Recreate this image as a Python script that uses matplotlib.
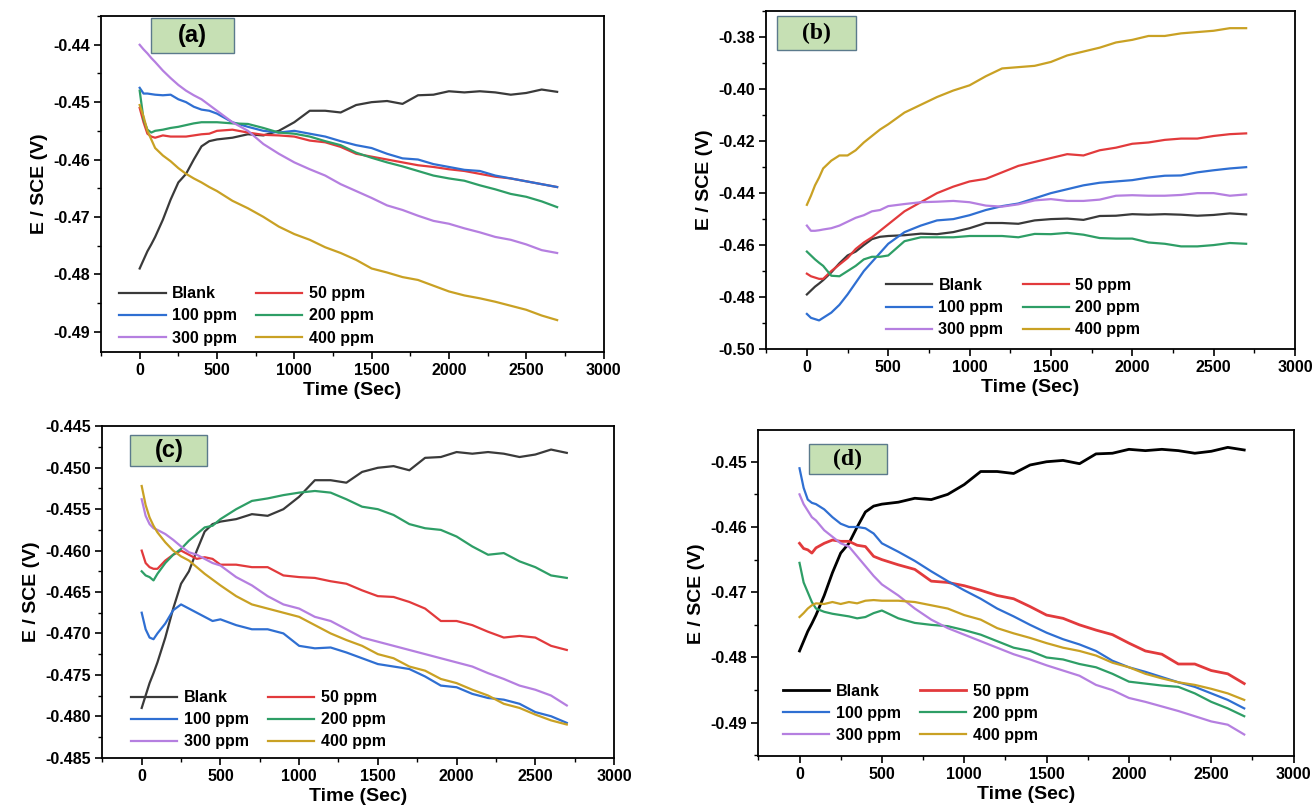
import matplotlib
matplotlib.use("Agg")
import matplotlib.pyplot as plt
from matplotlib.patches import Rectangle
from matplotlib.ticker import MultipleLocator, AutoMinorLocator, FormatStrFormatter

plt.rcParams['font.family'] = ['Liberation Sans', 'DejaVu Sans']
plt.rcParams['font.weight'] = 'bold'

# time grid (s), shared by all curves
t = [0, 25, 50, 75, 100, 150, 200, 250, 300, 350, 400, 450, 500,
     600, 700, 800, 900, 1000, 1100, 1200, 1300, 1400, 1500, 1600, 1700,
     1800, 1900, 2000, 2100, 2200, 2300, 2400, 2500, 2600, 2700]

labels = ["Blank", "50 ppm", "100 ppm", "200 ppm", "300 ppm", "400 ppm"]
colors = ["#3a3a3a", "#e23a3c", "#2f6fd2", "#2e9e66", "#b57fe0", "#c9a124"]

blank = [-0.4790, -0.4775, -0.4760, -0.4748, -0.4735, -0.4705, -0.4670, -0.4640, -0.4625, -0.4600, -0.4577, -0.4568, -0.4565,
         -0.4562, -0.4556, -0.4558, -0.4550, -0.4535, -0.4515, -0.4515, -0.4518, -0.4505, -0.4500, -0.4498, -0.4503,
         -0.4488, -0.4487, -0.4481, -0.4483, -0.4481, -0.4483, -0.4487, -0.4484, -0.4478, -0.4482]

# panel (a)
a_50 = [-0.4510, -0.4535, -0.4555, -0.4560, -0.4562, -0.4558, -0.4560, -0.4560, -0.4560, -0.4558, -0.4556, -0.4555, -0.4550,
        -0.4548, -0.4553, -0.4557, -0.4558, -0.4560, -0.4567, -0.4570, -0.4578, -0.4590, -0.4595, -0.4600, -0.4605,
        -0.4610, -0.4613, -0.4617, -0.4620, -0.4625, -0.4630, -0.4633, -0.4638, -0.4643, -0.4648]
a_100 = [-0.4475, -0.4485, -0.4485, -0.4486, -0.4487, -0.4488, -0.4487, -0.4495, -0.4500, -0.4508, -0.4513, -0.4515, -0.4520,
         -0.4535, -0.4543, -0.4550, -0.4553, -0.4550, -0.4555, -0.4560, -0.4568, -0.4575, -0.4580, -0.4590, -0.4598,
         -0.4600, -0.4608, -0.4613, -0.4618, -0.4620, -0.4628, -0.4633, -0.4638, -0.4643, -0.4648]
a_200 = [-0.4480, -0.4530, -0.4548, -0.4553, -0.4550, -0.4548, -0.4545, -0.4543, -0.4540, -0.4537, -0.4535, -0.4535, -0.4535,
         -0.4537, -0.4538, -0.4545, -0.4553, -0.4555, -0.4560, -0.4568, -0.4575, -0.4588, -0.4597, -0.4605, -0.4612,
         -0.4620, -0.4628, -0.4633, -0.4637, -0.4645, -0.4652, -0.4660, -0.4665, -0.4673, -0.4683]
a_300 = [-0.4400, -0.4408, -0.4415, -0.4423, -0.4430, -0.4445, -0.4458, -0.4470, -0.4480, -0.4488, -0.4495, -0.4505, -0.4515,
         -0.4535, -0.4550, -0.4573, -0.4590, -0.4605, -0.4617, -0.4628, -0.4643, -0.4655, -0.4667, -0.4680, -0.4688,
         -0.4698, -0.4707, -0.4712, -0.4720, -0.4727, -0.4735, -0.4740, -0.4748, -0.4758, -0.4763]
a_400 = [-0.4505, -0.4525, -0.4550, -0.4565, -0.4580, -0.4593, -0.4603, -0.4615, -0.4625, -0.4633, -0.4640, -0.4648, -0.4655,
         -0.4672, -0.4685, -0.4700, -0.4717, -0.4730, -0.4740, -0.4753, -0.4763, -0.4775, -0.4790, -0.4797, -0.4805,
         -0.4810, -0.4820, -0.4830, -0.4837, -0.4842, -0.4848, -0.4855, -0.4862, -0.4872, -0.4880]

# panel (b)
b_50 = [-0.4710, -0.4720, -0.4725, -0.4730, -0.4730, -0.4700, -0.4675, -0.4650, -0.4615, -0.4590, -0.4570, -0.4545, -0.4520,
        -0.4470, -0.4435, -0.4400, -0.4375, -0.4355, -0.4345, -0.4320, -0.4295, -0.4280, -0.4265, -0.4250, -0.4255,
        -0.4235, -0.4225, -0.4210, -0.4205, -0.4195, -0.4190, -0.4190, -0.4180, -0.4173, -0.4170]
b_100 = [-0.4865, -0.4880, -0.4885, -0.4890, -0.4880, -0.4860, -0.4830, -0.4790, -0.4745, -0.4700, -0.4665, -0.4630, -0.4595,
         -0.4550, -0.4525, -0.4505, -0.4500, -0.4485, -0.4465, -0.4450, -0.4440, -0.4420, -0.4400, -0.4385, -0.4370,
         -0.4360, -0.4355, -0.4350, -0.4340, -0.4333, -0.4332, -0.4320, -0.4312, -0.4305, -0.4300]
b_200 = [-0.4625, -0.4640, -0.4655, -0.4668, -0.4680, -0.4718, -0.4720, -0.4700, -0.4680, -0.4655, -0.4645, -0.4645, -0.4640,
         -0.4585, -0.4570, -0.4570, -0.4570, -0.4565, -0.4565, -0.4565, -0.4570, -0.4557, -0.4558, -0.4553, -0.4560,
         -0.4573, -0.4575, -0.4575, -0.4590, -0.4595, -0.4605, -0.4605, -0.4600, -0.4592, -0.4595]
b_300 = [-0.4525, -0.4545, -0.4545, -0.4543, -0.4540, -0.4535, -0.4525, -0.4510, -0.4495, -0.4485, -0.4470, -0.4465, -0.4450,
         -0.4442, -0.4435, -0.4433, -0.4430, -0.4435, -0.4448, -0.4452, -0.4443, -0.4428, -0.4423, -0.4430, -0.4430,
         -0.4425, -0.4410, -0.4408, -0.4410, -0.4410, -0.4407, -0.4400, -0.4400, -0.4410, -0.4405]
b_400 = [-0.4445, -0.4410, -0.4370, -0.4340, -0.4305, -0.4275, -0.4255, -0.4255, -0.4235, -0.4205, -0.4180, -0.4155, -0.4135,
         -0.4090, -0.4060, -0.4030, -0.4005, -0.3985, -0.3950, -0.3920, -0.3915, -0.3910, -0.3895, -0.3870, -0.3855,
         -0.3840, -0.3820, -0.3810, -0.3795, -0.3795, -0.3785, -0.3780, -0.3775, -0.3765, -0.3765]

# panel (c)
c_50 = [-0.4600, -0.4615, -0.4620, -0.4622, -0.4622, -0.4612, -0.4605, -0.4600, -0.4605, -0.4610, -0.4608, -0.4610, -0.4617,
        -0.4617, -0.4620, -0.4620, -0.4630, -0.4632, -0.4633, -0.4637, -0.4640, -0.4648, -0.4655, -0.4656, -0.4662,
        -0.4670, -0.4685, -0.4685, -0.4690, -0.4698, -0.4705, -0.4703, -0.4705, -0.4715, -0.4720]
c_100 = [-0.4675, -0.4695, -0.4705, -0.4707, -0.4700, -0.4688, -0.4672, -0.4665, -0.4670, -0.4675, -0.4680, -0.4685, -0.4683,
         -0.4690, -0.4695, -0.4695, -0.4700, -0.4715, -0.4718, -0.4717, -0.4723, -0.4730, -0.4737, -0.4740, -0.4743,
         -0.4752, -0.4763, -0.4765, -0.4773, -0.4778, -0.4780, -0.4785, -0.4795, -0.4800, -0.4808]
c_200 = [-0.4625, -0.4630, -0.4632, -0.4636, -0.4628, -0.4615, -0.4605, -0.4598, -0.4588, -0.4580, -0.4572, -0.4570, -0.4562,
         -0.4550, -0.4540, -0.4537, -0.4533, -0.4530, -0.4528, -0.4530, -0.4538, -0.4547, -0.4550, -0.4557, -0.4568,
         -0.4573, -0.4575, -0.4583, -0.4595, -0.4605, -0.4603, -0.4613, -0.4620, -0.4630, -0.4633]
c_300 = [-0.4538, -0.4558, -0.4568, -0.4573, -0.4575, -0.4580, -0.4587, -0.4595, -0.4602, -0.4605, -0.4610, -0.4615, -0.4618,
         -0.4632, -0.4642, -0.4655, -0.4665, -0.4670, -0.4680, -0.4685, -0.4695, -0.4705, -0.4710, -0.4715, -0.4720,
         -0.4725, -0.4730, -0.4735, -0.4740, -0.4748, -0.4755, -0.4763, -0.4768, -0.4775, -0.4787]
c_400 = [-0.4522, -0.4545, -0.4560, -0.4570, -0.4578, -0.4590, -0.4600, -0.4607, -0.4612, -0.4620, -0.4628, -0.4635, -0.4642,
         -0.4655, -0.4665, -0.4670, -0.4675, -0.4680, -0.4690, -0.4700, -0.4708, -0.4715, -0.4725, -0.4730, -0.4740,
         -0.4745, -0.4755, -0.4760, -0.4768, -0.4775, -0.4785, -0.4790, -0.4798, -0.4805, -0.4810]

# panel (d)
d_blank = blank
d_50 = [-0.4625, -0.4633, -0.4635, -0.4640, -0.4632, -0.4625, -0.4620, -0.4622, -0.4622, -0.4628, -0.4630, -0.4645, -0.4650,
        -0.4658, -0.4665, -0.4683, -0.4685, -0.4690, -0.4697, -0.4705, -0.4710, -0.4722, -0.4735, -0.4740, -0.4750,
        -0.4758, -0.4765, -0.4778, -0.4790, -0.4795, -0.4810, -0.4810, -0.4820, -0.4825, -0.4840]
d_100 = [-0.4510, -0.4540, -0.4558, -0.4563, -0.4565, -0.4573, -0.4585, -0.4595, -0.4600, -0.4600, -0.4602, -0.4610, -0.4625,
         -0.4638, -0.4652, -0.4668, -0.4683, -0.4697, -0.4710, -0.4725, -0.4737, -0.4750, -0.4762, -0.4772, -0.4780,
         -0.4790, -0.4805, -0.4815, -0.4822, -0.4830, -0.4838, -0.4845, -0.4855, -0.4865, -0.4878]
d_200 = [-0.4655, -0.4685, -0.4700, -0.4715, -0.4725, -0.4730, -0.4733, -0.4735, -0.4737, -0.4740, -0.4738, -0.4732, -0.4728,
         -0.4740, -0.4747, -0.4750, -0.4752, -0.4758, -0.4765, -0.4775, -0.4785, -0.4790, -0.4800, -0.4803, -0.4810,
         -0.4815, -0.4825, -0.4837, -0.4840, -0.4843, -0.4845, -0.4855, -0.4868, -0.4878, -0.4890]
d_300 = [-0.4550, -0.4565, -0.4575, -0.4585, -0.4590, -0.4605, -0.4615, -0.4625, -0.4630, -0.4645, -0.4660, -0.4675, -0.4688,
         -0.4705, -0.4725, -0.4742, -0.4755, -0.4765, -0.4775, -0.4785, -0.4795, -0.4803, -0.4812, -0.4820, -0.4828,
         -0.4842, -0.4850, -0.4862, -0.4868, -0.4875, -0.4882, -0.4890, -0.4898, -0.4903, -0.4918]
d_400 = [-0.4738, -0.4732, -0.4725, -0.4720, -0.4717, -0.4718, -0.4715, -0.4718, -0.4715, -0.4717, -0.4713, -0.4712, -0.4713,
         -0.4713, -0.4715, -0.4720, -0.4725, -0.4735, -0.4742, -0.4755, -0.4763, -0.4770, -0.4778, -0.4785, -0.4790,
         -0.4797, -0.4808, -0.4815, -0.4825, -0.4832, -0.4838, -0.4842, -0.4848, -0.4855, -0.4865]

panels = [
    ("(a)", [blank, a_50, a_100, a_200, a_300, a_400], (-0.4936, -0.435), 0.01, "%.2f"),
    ("(b)", [blank, b_50, b_100, b_200, b_300, b_400], (-0.50, -0.37), 0.02, "%.2f"),
    ("(c)", [blank, c_50, c_100, c_200, c_300, c_400], (-0.485, -0.445), 0.005, "%.3f"),
    ("(d)", [d_blank, d_50, d_100, d_200, d_300, d_400], (-0.4951, -0.4452), 0.01, "%.2f"),
]
rects = [[0.077, 0.563, 0.383, 0.417],
         [0.584, 0.567, 0.403, 0.419],
         [0.078, 0.060, 0.390, 0.411],
         [0.578, 0.062, 0.408, 0.404]]
# tag box (x0, y0, w, h) in axes fraction
tags = [(0.10, 0.89, 0.165, 0.105), (0.02, 0.885, 0.15, 0.10),
        (0.055, 0.88, 0.15, 0.093), (0.095, 0.865, 0.145, 0.093)]
leg_anchor = [(0.03, 0.01), (0.22, 0.025), (0.05, 0.015), (0.04, 0.03)]

fig = plt.figure(figsize=(13.12, 8.06), dpi=100)
for i, (tag, series, ylim, step, fmt) in enumerate(panels):
    ax = fig.add_axes(rects[i])
    lines = []
    for s, lab, col in zip(series, labels, colors):
        lw = 1.6
        c = col
        if tag == "(d)" and lab == "Blank":
            c = "black"
            lw = 2.0
        if tag == "(d)" and lab == "50 ppm":
            lw = 2.0
        ln, = ax.plot(t, s, color=c, lw=lw, label=lab)
        lines.append(ln)
    ax.set_xlim(-250, 3000)
    ax.set_ylim(*ylim)
    ax.xaxis.set_major_locator(MultipleLocator(500))
    ax.xaxis.set_minor_locator(AutoMinorLocator(2))
    ax.yaxis.set_major_locator(MultipleLocator(step))
    ax.yaxis.set_minor_locator(AutoMinorLocator(2))
    ax.yaxis.set_major_formatter(FormatStrFormatter(fmt))
    ax.tick_params(which='major', direction='out', length=5, width=1.2, labelsize=11.5, pad=3)
    ax.tick_params(which='minor', direction='out', length=3, width=1.0)
    for sp in ax.spines.values():
        sp.set_linewidth(1.3)
    ax.set_xlabel("Time (Sec)", fontsize=14, fontweight='bold', labelpad=3)
    ax.set_ylabel("E / SCE (V)", fontsize=14, fontweight='bold')
    # reorder so legend reads row-wise
    order = [0, 2, 4, 1, 3, 5]
    ax.legend([lines[k] for k in order], [labels[k] for k in order], ncol=2, frameon=False,
              loc='lower left', bbox_to_anchor=leg_anchor[i], borderaxespad=0, borderpad=0.2,
              handlelength=2.9, columnspacing=1.2, labelspacing=0.45, handletextpad=0.4,
              prop={'weight': 'bold', 'size': 11.5})
    x0, y0, w, h = tags[i]
    ax.add_patch(Rectangle((x0, y0), w, h, transform=ax.transAxes, facecolor="#c6e0b4",
                           edgecolor="#5b7a8c", lw=1.0, zorder=5))
    fam = ['Liberation Serif'] if tag in ("(b)", "(d)") else ['Liberation Sans']
    ax.text(x0 + w / 2, y0 + h / 2, tag, transform=ax.transAxes, ha='center', va='center',
            fontsize=17, fontweight='bold', family=fam, zorder=6)

fig.savefig("out.png", dpi=100)
